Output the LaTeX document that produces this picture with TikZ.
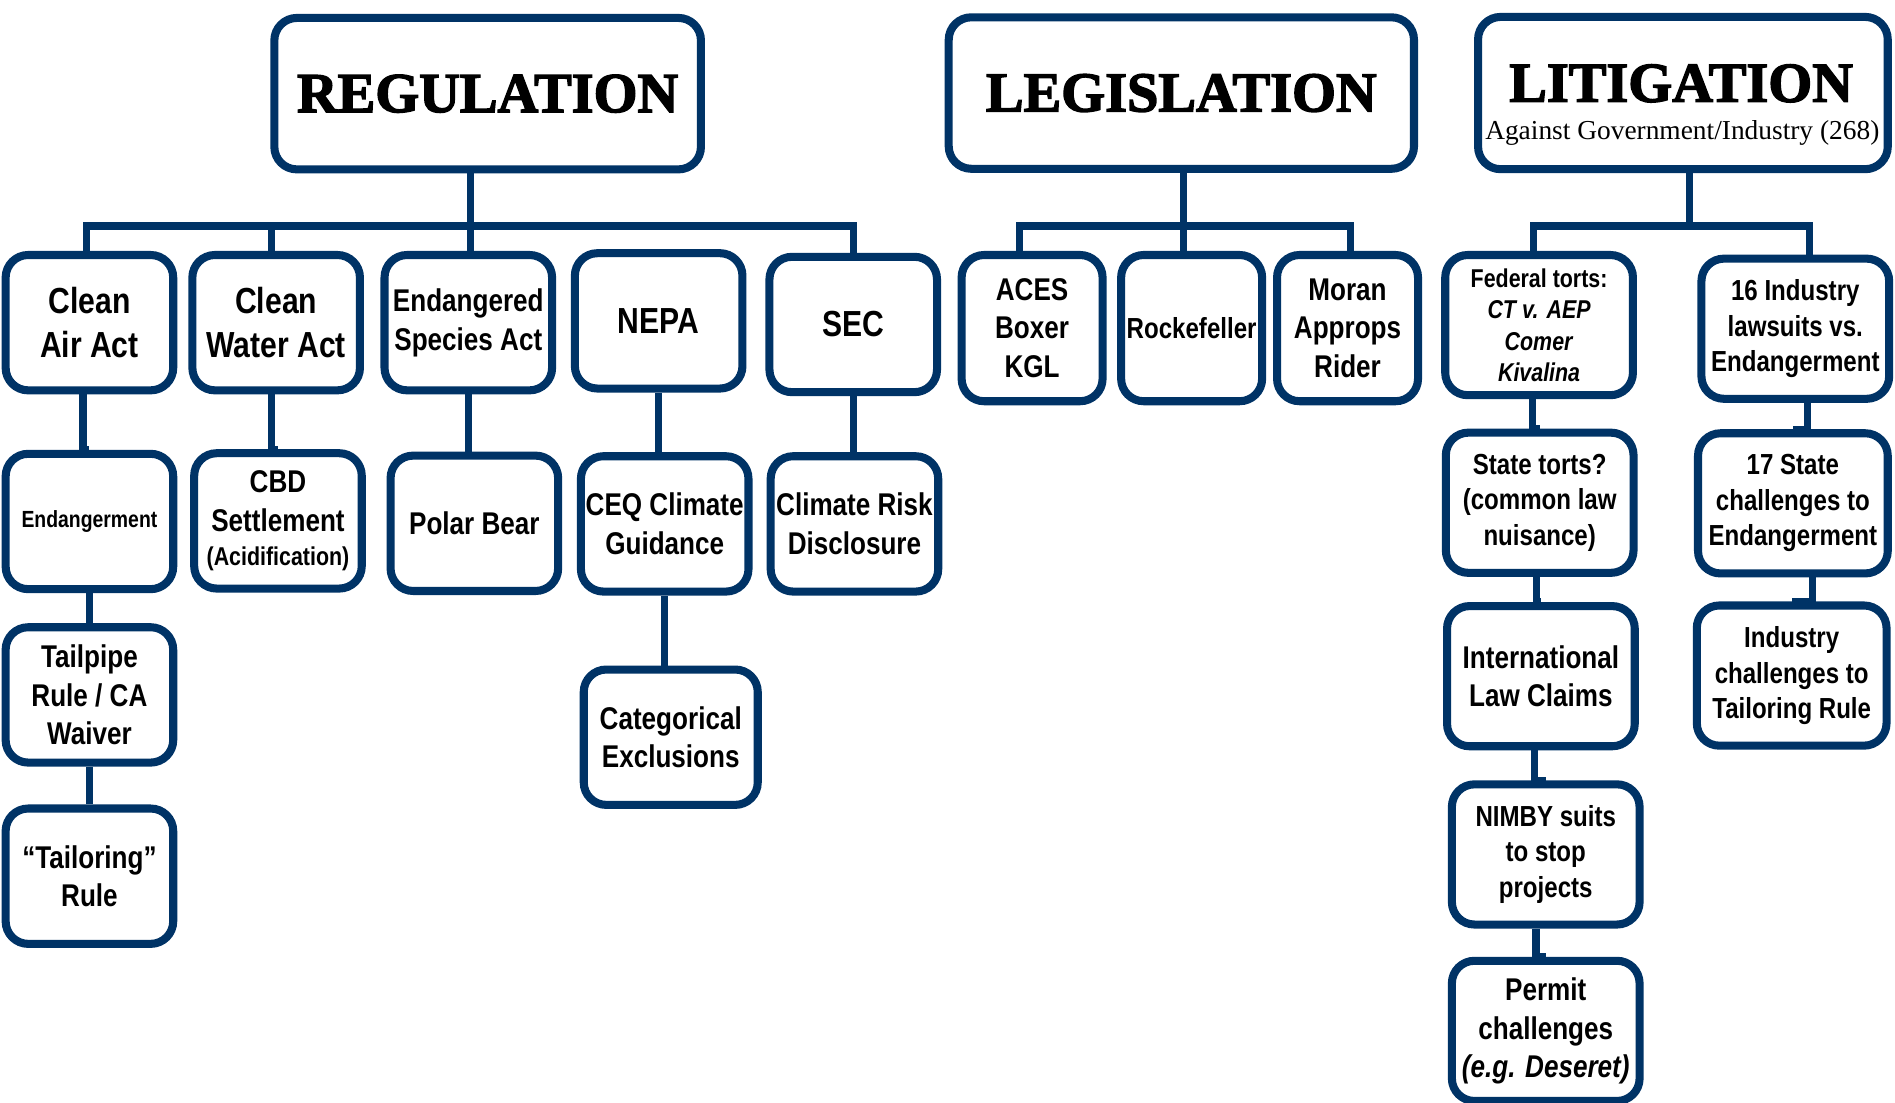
\documentclass[tikz,border=0pt]{standalone}
\usepackage{fontspec}
\setmainfont{Liberation Sans}[FakeStretch=0.83]
\newfontfamily\headfont{Liberation Serif}[BoldFeatures={FakeBold=2.5}]
\newfontfamily\subfont{Liberation Serif}

\definecolor{boxblue}{RGB}{0,51,102}

\tikzset{every picture/.style={line width=0.75pt}}
\tikzset{
  box/.style={draw=boxblue, line width=5pt, rounded corners=14pt, fill=white, align=center, inner sep=0pt, font=\bfseries},
  regbox/.style={box, minimum width=104pt, minimum height=84pt},
  legbox/.style={box, minimum width=87.5pt, minimum height=90.75pt},
  litbox/.style={box, minimum width=116.5pt, minimum height=87pt},
  headbox/.style={box, minimum height=94pt, font=\headfont\bfseries\fontsize{35}{40}\selectfont},
  big/.style={font=\bfseries\fontsize{22.5}{27.75}\selectfont},
  mid/.style={font=\bfseries\fontsize{19.5}{24}\selectfont},
  sml/.style={font=\bfseries\fontsize{18}{22}\selectfont},
  link/.style={draw=boxblue, line width=4.5pt},
}

\begin{document}
\begin{tikzpicture}[x=0.75pt,y=0.75pt,yscale=-1,xscale=1]
\useasboundingbox (0,0) rectangle (1568,912);

%Shape: Header boxes
\node (reg) [headbox, minimum width=264.75pt] at (403.5,77.5) {REGULATION};
\node (leg) [headbox, minimum width=288.75pt] at (977.5,77) {LEGISLATION};
\node (lit) [headbox, minimum width=254.25pt, minimum height=94.5pt] at (1392.5,77) {};
% Text Node
\node (littitle) [inner sep=0pt, font=\headfont\bfseries\fontsize{35}{40}\selectfont] at (1391,69) {LITIGATION};
\node (litsub) [inner sep=0pt, font=\subfont\fontsize{17}{20}\selectfont] at (1392,110) {Against Government/Industry (268)};

%Shape: Regulation branch
\node (caa) [regbox, big] at (74,267) {Clean\\Air Act};
\node (cwa) [regbox, big] at (228.5,267) {Clean\\Water Act};
\node (esa) [regbox, mid] at (387.5,267) {Endangered\\Species Act};
\node (nepa) [regbox, big] at (545,265.5) {NEPA};
\node (sec) [regbox, big] at (706,268.5) {SEC};

\node (endg) [regbox, font=\bfseries\fontsize{14.5}{17}\selectfont] at (74,431.5) {Endangerment};
\node (cbd) [regbox, mid] at (230,431) {CBD\\Settlement\\[-2.5pt]{\fontsize{16}{20}\selectfont(Acidification)}};
\node (polar) [regbox, mid] at (392.5,433) {Polar Bear};
\node (ceq) [regbox, mid] at (550,433.5) {CEQ Climate\\Guidance};
\node (risk) [regbox, mid] at (707,433.5) {Climate Risk\\Disclosure};
\node (tail) [regbox, mid] at (74,575) {Tailpipe\\Rule / CA\\Waiver};
\node (tailor) [regbox, mid] at (74,725) {“Tailoring”\\Rule};
\node (catex) [regbox, mid, minimum width=108pt] at (555,610) {Categorical\\Exclusions};

%Shape: Legislation branch
\node (aces) [legbox, mid] at (854,271.5) {ACES\\Boxer\\KGL};
\node (rock) [legbox, sml] at (986,271.5) {Rockefeller};
\node (moran) [legbox, mid] at (1115,271.5) {Moran\\Approps\\Rider};

%Shape: Litigation branch
\node (fed) [litbox, font=\bfseries\fontsize{16}{19.5}\selectfont] at (1273.5,269) {Federal torts:\\\textit{CT v. AEP}\\\textit{Comer}\\\textit{Kivalina}};
\node (ind16) [litbox, sml] at (1485.5,272) {16 Industry\\lawsuits vs.\\Endangerment};
\node (state) [litbox, sml] at (1274,416) {State torts?\\(common law\\nuisance)};
\node (intl) [litbox, mid] at (1275,559.5) {International\\Law Claims};
\node (nimby) [litbox, sml] at (1279,707) {NIMBY suits\\to stop\\projects};
\node (permit) [litbox, mid] at (1279,853) {Permit\\challenges\\\textit{(e.g. Deseret)}};
\node (st17) [litbox, sml, minimum width=117.75pt] at (1483.5,416.5) {17 State\\challenges to\\Endangerment};
\node (indch) [litbox, sml, minimum width=117.75pt] at (1482.5,559) {Industry\\challenges to\\Tailoring Rule};

%Straight Lines: buses
\coordinate (regbus) at (389,187);
\coordinate (legbus) at (979,187);
\coordinate (litbus) at (1398,187);

\draw [link] (reg.south -| regbus) -- (regbus |- esa.north);
\draw [link] ([xshift=-2pt]caa.north) |- (regbus) -| (sec.north);
\draw [link] ([xshift=-3pt]cwa.north) |- (regbus);

\draw [link] (leg.south -| legbus) -- (legbus |- rock.north);
\draw [link] ([xshift=-8pt]aces.north) |- (legbus) -| ([xshift=2pt]moran.north);

\draw [link] (lit.south -| litbus) -- (litbus);
\draw [link] ([xshift=-3.5pt]fed.north) |- (litbus) -| ([xshift=9pt]ind16.north);

%Straight Lines: columns
\draw [link] ([xshift=-4pt]caa.south) |- (endg.north);
\draw [link] (endg.south) -- (endg.south |- tail.north);
\draw [link] (tail.south) -- (tail.south |- tailor.north);
\draw [link] ([xshift=-3pt]cwa.south) |- (cbd.north);
\draw [link] (esa.south) -- (esa.south |- polar.north);
\draw [link] (nepa.south) -- (nepa.south |- ceq.north);
\draw [link] (sec.south) -- (sec.south |- risk.north);
\draw [link] (ceq.south) -- (ceq.south |- catex.north);

\draw [link] ([xshift=-4pt]fed.south) |- (state.north);
\draw [link] ([xshift=-2pt]state.south) |- (intl.north);
\draw [link] ([xshift=-4pt]intl.south) |- (nimby.north);
\draw [link] ([xshift=-6pt]nimby.south) |- (permit.north);
\draw [link] ([xshift=7.5pt]ind16.south) |- (st17.north);
\draw [link] ([xshift=12pt]st17.south) |- (indch.north);

\end{tikzpicture}
\end{document}
